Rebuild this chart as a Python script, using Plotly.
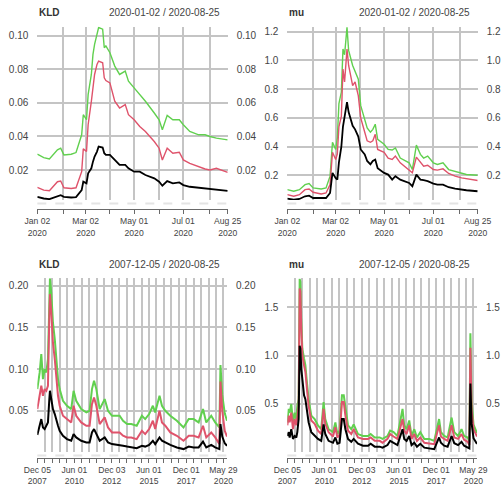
import plotly.graph_objects as go

W, H = 503, 485

# ---------------- data ----------------
kld20_dates = ["2020-01-02", "2020-01-10", "2020-01-17", "2020-01-27", "2020-01-31", "2020-02-04",
               "2020-02-13", "2020-02-19", "2020-02-26", "2020-02-28", "2020-03-03", "2020-03-05",
               "2020-03-09", "2020-03-11", "2020-03-13", "2020-03-16", "2020-03-18", "2020-03-23",
               "2020-03-25", "2020-03-27", "2020-04-01", "2020-04-07", "2020-04-13", "2020-04-20",
               "2020-04-24", "2020-05-01", "2020-05-08", "2020-05-15", "2020-05-26", "2020-06-01",
               "2020-06-05", "2020-06-11", "2020-06-18", "2020-06-26", "2020-07-01", "2020-07-09",
               "2020-07-20", "2020-07-28", "2020-08-03", "2020-08-11", "2020-08-25"]
kld20_green = [0.0294, 0.0274, 0.0266, 0.0320, 0.0330, 0.0290, 0.0294, 0.0304, 0.0410, 0.0530,
               0.0500, 0.0650, 0.0770, 0.0890, 0.0950, 0.1010, 0.1050, 0.1040, 0.0930, 0.0940,
               0.0900, 0.0820, 0.0770, 0.0790, 0.0730, 0.0690, 0.0650, 0.0610, 0.0540, 0.0500,
               0.0440, 0.0526, 0.0500, 0.0500, 0.0470, 0.0430, 0.0410, 0.0410, 0.0400, 0.0390,
               0.0380]
kld20_red = [0.0096, 0.0080, 0.0076, 0.0130, 0.0134, 0.0094, 0.0090, 0.0094, 0.0190, 0.0326,
             0.0310, 0.0470, 0.0610, 0.0710, 0.0770, 0.0830, 0.0850, 0.0840, 0.0750, 0.0734,
             0.0720, 0.0610, 0.0570, 0.0590, 0.0530, 0.0500, 0.0460, 0.0430, 0.0370, 0.0330,
             0.0260, 0.0330, 0.0300, 0.0306, 0.0260, 0.0240, 0.0220, 0.0206, 0.0200, 0.0210,
             0.0186]
kld20_black = [0.0040, 0.0030, 0.0026, 0.0046, 0.0050, 0.0040, 0.0036, 0.0038, 0.0080, 0.0130,
               0.0120, 0.0180, 0.0210, 0.0250, 0.0280, 0.0310, 0.0340, 0.0334, 0.0300, 0.0290,
               0.0290, 0.0260, 0.0230, 0.0230, 0.0210, 0.0190, 0.0190, 0.0170, 0.0150, 0.0130,
               0.0106, 0.0134, 0.0120, 0.0126, 0.0110, 0.0100, 0.0094, 0.0090, 0.0086, 0.0080,
               0.0076]

mu20_dates = ["2020-01-02", "2020-01-10", "2020-01-17", "2020-01-24", "2020-01-29", "2020-02-03",
              "2020-02-13", "2020-02-19", "2020-02-24", "2020-02-27", "2020-03-02", "2020-03-04",
              "2020-03-06", "2020-03-09", "2020-03-11", "2020-03-13", "2020-03-16", "2020-03-18",
              "2020-03-23", "2020-03-26", "2020-03-30", "2020-04-02", "2020-04-07", "2020-04-10",
              "2020-04-14", "2020-04-17", "2020-04-20", "2020-04-23", "2020-05-01", "2020-05-06",
              "2020-05-11", "2020-05-15", "2020-05-21", "2020-06-01", "2020-06-05", "2020-06-10",
              "2020-06-15", "2020-06-19", "2020-06-24", "2020-07-01", "2020-07-06", "2020-07-13",
              "2020-07-20", "2020-07-28", "2020-08-05", "2020-08-11", "2020-08-25"]
mu20_green = [0.100, 0.089, 0.100, 0.135, 0.142, 0.112, 0.105, 0.112, 0.194, 0.430, 0.380, 0.460,
              0.700, 0.780, 1.080, 1.040, 1.230, 1.070, 0.965, 0.920, 0.870, 0.685, 0.590, 0.530,
              0.500, 0.520, 0.556, 0.450, 0.416, 0.380, 0.376, 0.390, 0.320, 0.287, 0.240, 0.410,
              0.346, 0.320, 0.334, 0.287, 0.276, 0.287, 0.240, 0.229, 0.217, 0.206, 0.200]
mu20_red = [0.065, 0.054, 0.065, 0.100, 0.105, 0.082, 0.070, 0.077, 0.135, 0.360, 0.310, 0.350,
            0.540, 0.610, 0.940, 0.850, 1.080, 0.965, 0.825, 0.850, 0.755, 0.600, 0.500, 0.440,
            0.430, 0.440, 0.486, 0.380, 0.360, 0.320, 0.310, 0.334, 0.287, 0.240, 0.217, 0.327,
            0.287, 0.264, 0.270, 0.240, 0.236, 0.245, 0.213, 0.194, 0.182, 0.175, 0.164]
mu20_black = [0.037, 0.030, 0.035, 0.054, 0.058, 0.042, 0.042, 0.042, 0.077, 0.217, 0.180, 0.170,
              0.290, 0.400, 0.540, 0.610, 0.710, 0.640, 0.545, 0.520, 0.470, 0.380, 0.346, 0.300,
              0.276, 0.300, 0.310, 0.250, 0.217, 0.205, 0.170, 0.194, 0.170, 0.147, 0.124, 0.205,
              0.170, 0.166, 0.159, 0.142, 0.135, 0.135, 0.117, 0.107, 0.100, 0.096, 0.089]

kldL_dates = ["2007-12-05", "2008-02-01", "2008-03-12", "2008-04-22", "2008-06-02", "2008-07-12",
              "2008-08-22", "2008-09-25", "2008-10-10", "2008-11-12", "2008-12-22", "2009-02-05",
              "2009-03-15", "2009-04-25", "2009-06-05", "2009-08-25", "2009-12-01", "2010-03-15",
              "2010-05-12", "2010-07-15", "2010-11-15", "2011-03-20", "2011-06-08", "2011-08-05",
              "2011-09-25", "2011-11-20", "2012-02-10", "2012-06-12", "2012-09-01", "2012-12-08",
              "2013-06-12", "2013-09-05", "2013-12-12", "2014-03-25", "2014-08-05", "2014-12-10",
              "2015-03-01", "2015-06-06", "2015-09-05", "2015-11-01", "2016-02-15", "2016-04-15",
              "2016-07-05", "2016-11-05", "2017-04-15", "2017-09-25", "2018-01-30", "2018-05-30",
              "2018-09-30", "2019-01-15", "2019-04-05", "2019-08-05", "2019-11-10", "2020-02-20",
              "2020-03-18", "2020-05-01", "2020-07-01", "2020-08-25"]
kldL_green = [0.076, 0.096, 0.118, 0.088, 0.100, 0.096, 0.112, 0.192, 0.209, 0.192, 0.156, 0.136,
              0.108, 0.088, 0.076, 0.062, 0.056, 0.052, 0.074, 0.062, 0.052, 0.048, 0.050, 0.076,
              0.086, 0.076, 0.052, 0.064, 0.050, 0.044, 0.044, 0.038, 0.034, 0.034, 0.032, 0.044,
              0.040, 0.046, 0.056, 0.048, 0.068, 0.056, 0.050, 0.044, 0.038, 0.030, 0.040, 0.040,
              0.036, 0.052, 0.036, 0.044, 0.036, 0.030, 0.105, 0.069, 0.047, 0.038]
kldL_red = [0.052, 0.072, 0.080, 0.068, 0.076, 0.074, 0.080, 0.164, 0.190, 0.168, 0.132, 0.112,
            0.088, 0.068, 0.056, 0.044, 0.040, 0.036, 0.056, 0.044, 0.036, 0.032, 0.032, 0.058,
            0.066, 0.056, 0.034, 0.042, 0.030, 0.024, 0.024, 0.020, 0.018, 0.018, 0.016, 0.026,
            0.022, 0.028, 0.038, 0.028, 0.050, 0.036, 0.032, 0.024, 0.020, 0.014, 0.020, 0.020,
            0.018, 0.032, 0.018, 0.024, 0.018, 0.010, 0.085, 0.050, 0.026, 0.019]
kldL_black = [0.021, 0.032, 0.040, 0.030, 0.028, 0.032, 0.036, 0.064, 0.074, 0.064, 0.052, 0.046,
              0.038, 0.032, 0.026, 0.020, 0.016, 0.014, 0.022, 0.018, 0.014, 0.012, 0.012, 0.024,
              0.028, 0.022, 0.014, 0.018, 0.012, 0.010, 0.008, 0.008, 0.007, 0.006, 0.005, 0.008,
              0.007, 0.009, 0.014, 0.010, 0.018, 0.014, 0.012, 0.009, 0.006, 0.004, 0.007, 0.006,
              0.006, 0.013, 0.006, 0.009, 0.006, 0.004, 0.034, 0.019, 0.011, 0.008]

muL_dates = ["2007-12-05", "2008-01-08", "2008-02-01", "2008-03-12", "2008-04-22", "2008-06-02",
             "2008-07-12", "2008-08-06", "2008-09-08", "2008-10-03", "2008-10-20", "2008-11-12",
             "2008-12-08", "2009-01-18", "2009-02-20", "2009-03-30", "2009-05-10", "2009-07-15",
             "2009-10-05", "2009-12-25", "2010-03-15", "2010-05-12", "2010-06-22", "2010-09-12",
             "2010-12-28", "2011-02-25", "2011-04-15", "2011-06-08", "2011-08-05", "2011-09-18",
             "2011-10-28", "2012-01-01", "2012-03-20", "2012-05-18", "2012-09-01", "2013-01-01",
             "2013-05-05", "2013-07-08", "2013-10-15", "2014-02-15", "2014-04-25", "2014-08-25",
             "2014-10-28", "2015-01-20", "2015-04-25", "2015-08-28", "2015-10-08", "2015-12-05",
             "2016-02-08", "2016-04-05", "2016-06-10", "2016-08-15", "2016-11-05", "2017-02-12",
             "2017-06-12", "2017-10-12", "2018-02-08", "2018-03-25", "2018-06-12", "2018-09-05",
             "2018-12-12", "2019-02-15", "2019-05-20", "2019-08-12", "2019-10-15", "2020-01-10",
             "2020-02-20", "2020-03-16", "2020-04-15", "2020-06-01", "2020-08-25"]
muL_green = [0.31, 0.45, 0.41, 0.50, 0.31, 0.41, 0.345, 0.48, 0.55, 1.79, 1.76, 1.345, 1.07, 0.97,
             0.90, 0.72, 0.55, 0.38, 0.345, 0.28, 0.24, 0.52, 0.345, 0.24, 0.21, 0.31, 0.19, 0.225,
             0.59, 0.59, 0.45, 0.28, 0.24, 0.29, 0.19, 0.17, 0.17, 0.19, 0.155, 0.155, 0.14, 0.17,
             0.225, 0.21, 0.17, 0.45, 0.28, 0.24, 0.33, 0.17, 0.24, 0.155, 0.21, 0.14, 0.14, 0.12,
             0.345, 0.21, 0.17, 0.155, 0.36, 0.21, 0.17, 0.24, 0.17, 0.155, 0.112, 1.23, 0.53,
             0.287, 0.200]
muL_red = [0.28, 0.38, 0.31, 0.41, 0.24, 0.345, 0.28, 0.38, 0.48, 1.69, 1.66, 1.28, 1.00, 0.90,
           0.83, 0.655, 0.48, 0.33, 0.295, 0.225, 0.19, 0.45, 0.295, 0.21, 0.165, 0.26, 0.155, 0.18,
           0.52, 0.52, 0.38, 0.225, 0.19, 0.24, 0.155, 0.14, 0.14, 0.155, 0.12, 0.12, 0.10, 0.14,
           0.19, 0.165, 0.14, 0.345, 0.225, 0.19, 0.28, 0.14, 0.19, 0.12, 0.155, 0.10, 0.096, 0.086,
           0.28, 0.165, 0.14, 0.12, 0.28, 0.155, 0.14, 0.19, 0.13, 0.11, 0.077, 1.08, 0.44, 0.24,
           0.164]
muL_black = [0.17, 0.21, 0.155, 0.24, 0.14, 0.17, 0.155, 0.21, 0.345, 1.10, 1.07, 0.86, 0.76, 0.59,
             0.55, 0.45, 0.31, 0.21, 0.17, 0.14, 0.12, 0.29, 0.19, 0.12, 0.10, 0.155, 0.09, 0.10,
             0.345, 0.345, 0.24, 0.14, 0.11, 0.14, 0.09, 0.07, 0.07, 0.09, 0.06, 0.06, 0.05, 0.076,
             0.12, 0.10, 0.076, 0.24, 0.14, 0.12, 0.17, 0.076, 0.10, 0.06, 0.09, 0.05, 0.045, 0.034,
             0.155, 0.10, 0.07, 0.06, 0.17, 0.096, 0.076, 0.11, 0.07, 0.05, 0.042, 0.71, 0.30, 0.147,
             0.089]

# x-axis grid / tick positions and labels
grid20 = ["2020-01-02", "2020-02-03", "2020-03-02", "2020-04-01", "2020-05-01", "2020-06-01",
          "2020-07-01", "2020-08-03", "2020-08-25"]
text20 = ["Jan 02<br>2020", "", "Mar 02<br>2020", "", "May 01<br>2020", "", "Jul 01<br>2020", "",
          "Aug 25<br>2020"]
gridL = ["2007-12-05", "2008-06-02", "2008-12-01", "2009-06-01", "2009-12-01", "2010-06-01",
         "2010-12-01", "2011-06-01", "2011-12-01", "2012-06-01", "2012-12-03", "2013-06-03",
         "2013-12-02", "2014-06-02", "2014-12-01", "2015-06-01", "2015-12-01", "2016-06-01",
         "2016-12-01", "2017-06-01", "2017-12-01", "2018-06-01", "2018-12-03", "2019-06-03",
         "2019-12-02", "2020-05-29"]
textL = ["Dec 05<br>2007", "", "", "", "", "Jun 01<br>2010", "", "", "", "", "Dec 03<br>2012",
         "", "", "", "", "Jun 01<br>2015", "", "", "", "", "Dec 01<br>2017", "", "", "", "",
         "May 29<br>2020"]

# y ticks
yt_kld20 = [0.02, 0.04, 0.06, 0.08, 0.10]
yl_kld20 = ["0.02", "0.04", "0.06", "0.08", "0.10"]
yt_mu20 = [0.2, 0.4, 0.6, 0.8, 1.0, 1.2]
yl_mu20 = ["0.2", "0.4", "0.6", "0.8", "1.0", "1.2"]
yt_kldL = [0.05, 0.10, 0.15, 0.20]
yl_kldL = ["0.05", "0.10", "0.15", "0.20"]
yt_muL = [0.5, 1.0, 1.5]
yl_muL = ["0.5", "1.0", "1.5"]

titles = ["KLD", "mu", "KLD", "mu"]
ranges_txt = ["2020-01-02 / 2020-08-25", "2020-01-02 / 2020-08-25",
              "2007-12-05 / 2020-08-25", "2007-12-05 / 2020-08-25"]

COL_BLACK = "#000000"
COL_RED = "#DF536B"
COL_GREEN = "#61D04F"
GRID = "#c4c4c4"
TXT = "#444444"
FONT = "Liberation Sans, Arial, Helvetica, sans-serif"

panels = [
    dict(dates=kld20_dates, g=kld20_green, r=kld20_red, b=kld20_black,
         xr=["2020-01-02", "2020-08-25"], yr=[0.0021, 0.1055], yt=yt_kld20, yl=yl_kld20,
         gx=grid20, gt=text20, px=(37.3, 227.7), py=(26.7, 200.0), axy=209.0,
         lw=(1.4, 1.4, 1.8)),
    dict(dates=mu20_dates, g=mu20_green, r=mu20_red, b=mu20_black,
         xr=["2020-01-02", "2020-08-25"], yr=[0.028, 1.235], yt=yt_mu20, yl=yl_mu20,
         gx=grid20, gt=text20, px=(287.3, 477.7), py=(26.7, 200.0), axy=209.0,
         lw=(1.4, 1.4, 1.8)),
    dict(dates=kldL_dates, g=kldL_green, r=kldL_red, b=kldL_black,
         xr=["2007-12-05", "2020-08-25"], yr=[0.0005, 0.209], yt=yt_kldL, yl=yl_kldL,
         gx=gridL, gt=textL, px=(37.3, 227.0), py=(278.3, 452.0), axy=457.5,
         lw=(2.0, 2.0, 2.0)),
    dict(dates=muL_dates, g=muL_green, r=muL_red, b=muL_black,
         xr=["2007-12-05", "2020-08-25"], yr=[0.005, 1.796], yt=yt_muL, yl=yl_muL,
         gx=gridL, gt=textL, px=(287.3, 477.0), py=(278.3, 452.0), axy=457.5,
         lw=(2.0, 2.0, 2.0)),
]

fig = go.Figure()
layout = dict(width=W, height=H, margin=dict(l=0, r=0, t=0, b=0, pad=0, autoexpand=False),
              paper_bgcolor="white", plot_bgcolor="white", showlegend=False,
              font=dict(family=FONT, size=10, color=TXT))
annotations = []
shapes = []

for i, p in enumerate(panels):
    n = i + 1
    xa = "x" if n == 1 else f"x{n}"
    ya = "y" if n == 1 else f"y{n}"
    yr_id = f"y{n + 4}"
    xdom = [p["px"][0] / W, p["px"][1] / W]
    ydom = [1 - p["py"][1] / H, 1 - p["py"][0] / H]

    for vals, col, lw in ((p["g"], COL_GREEN, p["lw"][0]), (p["r"], COL_RED, p["lw"][1]),
                          (p["b"], COL_BLACK, p["lw"][2])):
        fig.add_trace(go.Scatter(x=p["dates"], y=vals, mode="lines", xaxis=xa, yaxis=ya,
                                 line=dict(color=col, width=lw), hoverinfo="skip"))
    # helper trace so the right-hand y axis is drawn
    fig.add_trace(go.Scatter(x=[], y=[], xaxis=xa, yaxis=yr_id, hoverinfo="skip"))

    layout[f"xaxis{n if n > 1 else ''}"] = dict(
        domain=xdom, range=p["xr"], type="date", anchor="free", position=1 - p["axy"] / H,
        tickmode="array", tickvals=p["gx"], ticktext=p["gt"],
        showgrid=True, gridcolor=GRID, gridwidth=1.6,
        showline=True, linecolor="#6a6a6a", linewidth=1,
        ticks="outside", ticklen=4, tickwidth=1, tickcolor="#6a6a6a",
        tickfont=dict(size=8.6, color=TXT),
        zeroline=False, fixedrange=True, automargin=False)
    layout[f"yaxis{n if n > 1 else ''}"] = dict(
        domain=ydom, range=p["yr"], anchor=xa, side="left",
        tickmode="array", tickvals=p["yt"], ticktext=p["yl"],
        showgrid=True, gridcolor=GRID, gridwidth=1.6, showline=False, zeroline=False,
        ticks="", ticklabelstandoff=8, tickfont=dict(size=10, color=TXT), fixedrange=True,
        automargin=False)
    layout[f"yaxis{n + 4}"] = dict(
        overlaying=ya, anchor=xa, side="right", range=p["yr"],
        tickmode="array", tickvals=p["yt"], ticktext=p["yl"],
        showgrid=False, showline=False, zeroline=False, ticks="", ticklabelstandoff=8,
        tickfont=dict(size=10, color=TXT), fixedrange=True, automargin=False)

    # faint dashed line under the plotting region
    shapes.append(dict(type="line", xref=f"{xa} domain", x0=0, x1=1, yref="paper",
                       y0=1 - (p["py"][1] + 3.5) / H, y1=1 - (p["py"][1] + 3.5) / H,
                       line=dict(color="#e4e4e4", width=2, dash="dash"), layer="below"))

    top_y = 1 - (p["py"][0] - 14) / H
    annotations.append(dict(text=f"<b>{titles[i]}</b>", xref="paper", yref="paper",
                            x=p["px"][0] / W, y=top_y, xanchor="left", yanchor="middle",
                            showarrow=False, font=dict(size=10, color="#333333")))
    annotations.append(dict(text=ranges_txt[i], xref="paper", yref="paper",
                            x=(p["px"][1] - 5.5) / W, y=top_y, xanchor="right", yanchor="middle",
                            showarrow=False, font=dict(size=10, color=TXT)))

layout["annotations"] = annotations
layout["shapes"] = shapes
fig.update_layout(**layout)
fig.write_html("out.html", config={"displayModeBar": False},
               post_script="document.body.style.margin='0px';"
                           "document.body.style.overflow='hidden';")
